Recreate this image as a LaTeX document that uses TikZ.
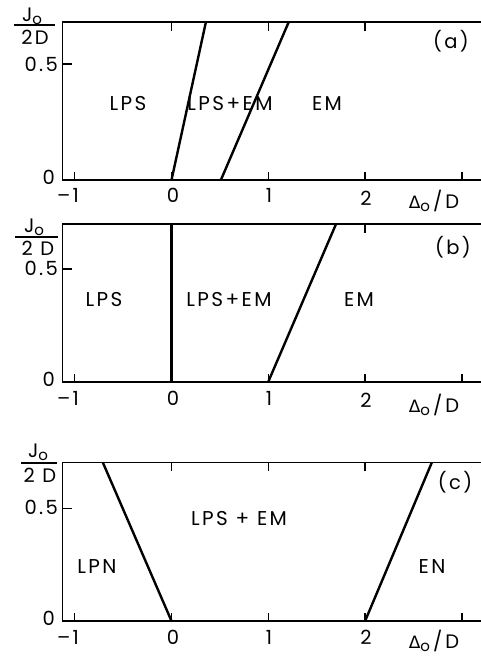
\documentclass[tikz,border=0pt]{standalone}
\usepackage{fontspec}
\setmainfont{Poppins}
\newfontfamily\lbl{Poppins}[LetterSpace=12]
\newfontfamily\grk{DejaVu Sans}
\tikzset{
  frame/.style={line width=1.6pt},
  phase/.style={line width=2.4pt},
  tickmark/.style={line width=1.3pt},
  fracline/.style={line width=1.2pt},
  region/.style={font=\lbl\fontsize{20}{20}\selectfont, inner sep=0pt},
  num/.style={font=\lbl\fontsize{19.5}{20}\selectfont, inner sep=0pt},
  tag/.style={font=\lbl\fontsize{19.5}{20}\selectfont, inner sep=0pt},
}
\newcommand\subo{\raisebox{-3pt}{\fontsize{15}{15}\selectfont o}}
\newcommand\deltaD{{\grk\fontsize{17}{17}\selectfont Δ}\subo\hspace{3pt}/\hspace{3pt}D}
\begin{document}
\begin{tikzpicture}
\useasboundingbox (0,0) rectangle (480pt,-656pt);

% ---------- panel (a) ----------
\begin{scope}[shift={(171.5pt,-180pt)}, x=96.8pt, y=232pt]
  \draw[frame] (-1.125,0) rectangle (3.3,0.68);
  \foreach \t in {-1,...,3} \draw[tickmark] (\t,0) -- ++(0,8pt);
  \foreach \t in {0,1,2} \draw[tickmark] (\t,0.68) -- ++(0,-9pt);
  \draw[tickmark] (-1.125,0.5) -- ++(9pt,0);
  \draw[tickmark] (3.3,0.5) -- ++(-9pt,0);
  \draw[phase] (0,0) -- (0.355,0.68);
  \draw[phase] (0.51,0) -- (1.21,0.68);
\end{scope}
\node[region] (aL) at (128pt,-104pt) {LPS};
\node[region] (aM) at (230pt,-104pt) {LPS+EM};
\node[region] (aR) at (327pt,-104pt) {EM};
\node[tag] (aT) at (451pt,-41pt) {(a)};
\node[num] (aJ) at (32pt,-16pt) {J\subo};
\coordinate (af1) at (14pt,-25pt);
\coordinate (af2) at (55pt,-25pt);
\draw[fracline] (af1) -- (af2);
\node[num] (aD) at (35pt,-37pt) {2D};
\node[num, anchor=east] (a05) at (58pt,-64pt) {0.5};
\node[num, anchor=east] (a0) at (55pt,-177pt) {0};
\node[num] (ax1) at (68pt,-195pt) {–1};
\node[num] (ax2) at (173pt,-195pt) {0};
\node[num] (ax3) at (269pt,-195pt) {1};
\node[num] (ax4) at (366pt,-198pt) {2};
\node[num] (axl) at (434pt,-201pt) {\deltaD};

% ---------- panel (b) ----------
\begin{scope}[shift={(171.5pt,-381.7pt)}, x=96.8pt, y=225.4pt]
  \draw[frame] (-1.125,0) rectangle (3.3,0.7);
  \foreach \t in {-1,...,3} \draw[tickmark] (\t,0) -- ++(0,8pt);
  \foreach \t in {0,2} \draw[tickmark] (\t,0.7) -- ++(0,-9pt);
  \draw[tickmark] (-1.125,0.5) -- ++(9pt,0);
  \draw[tickmark] (3.3,0.5) -- ++(-9pt,0);
  \draw[phase] (0,0) -- (0,0.7);
  \draw[phase] (1.0,0) -- (1.70,0.7);
\end{scope}
\node[region] (bL) at (104pt,-300pt) {LPS};
\node[region] (bM) at (229pt,-300pt) {LPS+EM};
\node[region] (bR) at (359pt,-300pt) {EM};
\node[tag] (bT) at (453pt,-247pt) {(b)};
\node[num] (bJ) at (34pt,-227pt) {J\subo};
\coordinate (bf1) at (15pt,-237pt);
\coordinate (bf2) at (58pt,-237pt);
\draw[fracline] (bf1) -- (bf2);
\node[num] (bD) at (38pt,-248pt) {2 D};
\node[num, anchor=east] (b05) at (58pt,-268pt) {0.5};
\node[num, anchor=east] (b0) at (55pt,-379pt) {0};
\node[num] (bx1) at (68pt,-398pt) {–1};
\node[num] (bx2) at (173pt,-398pt) {0};
\node[num] (bx3) at (269pt,-398pt) {1};
\node[num] (bx4) at (366pt,-400pt) {2};
\node[num] (bxl) at (434pt,-405pt) {\deltaD};

% ---------- panel (c) ----------
\begin{scope}[shift={(171.5pt,-621pt)}, x=96.8pt, y=225.4pt]
  \draw[frame] (-1.125,0) rectangle (3.3,0.704);
  \foreach \t in {-1,...,3} \draw[tickmark] (\t,0) -- ++(0,8pt);
  \foreach \t in {0,1,2} \draw[tickmark] (\t,0.704) -- ++(0,-9pt);
  \draw[tickmark] (-1.125,0.5) -- ++(9pt,0);
  \draw[tickmark] (3.3,0.5) -- ++(-9pt,0);
  \draw[phase] (0,0) -- (-0.71,0.704);
  \draw[phase] (2.0,0) -- (2.69,0.704);
\end{scope}
\node[region] (cM) at (239pt,-519pt) {LPS + EM};
\node[region] (cL) at (97pt,-567pt) {LPN};
\node[region] (cR) at (432pt,-567pt) {EN};
\node[tag] (cT) at (455pt,-482pt) {(c)};
\node[num] (cJ) at (38pt,-452pt) {J\subo};
\coordinate (cf1) at (21pt,-463pt);
\coordinate (cf2) at (57pt,-463pt);
\draw[fracline] (cf1) -- (cf2);
\node[num] (cD) at (40pt,-475pt) {2 D};
\node[num, anchor=east] (c05) at (58pt,-507pt) {0.5};
\node[num, anchor=east] (c0) at (55pt,-618pt) {0};
\node[num] (cx1) at (68pt,-637pt) {–1};
\node[num] (cx2) at (173pt,-637pt) {0};
\node[num] (cx3) at (269pt,-637pt) {1};
\node[num] (cx4) at (366pt,-637pt) {2};
\node[num] (cxl) at (434pt,-641pt) {\deltaD};
\end{tikzpicture}
\end{document}
